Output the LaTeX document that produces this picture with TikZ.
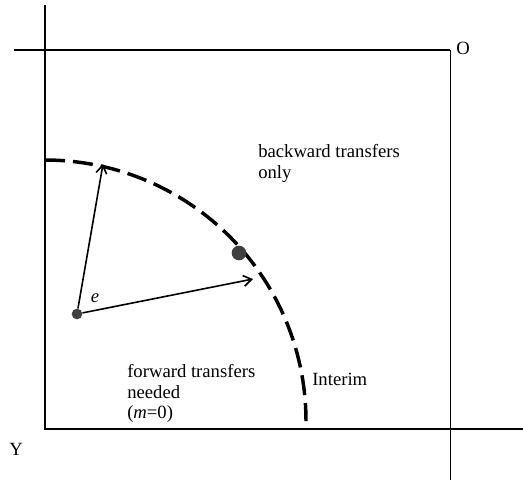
\documentclass[tikz,border=0pt]{standalone}
\usepackage{fontspec}
\setmainfont{Liberation Serif}
\usetikzlibrary{arrows.meta}
\begin{document}
\begin{tikzpicture}[x=0.75pt, y=-0.75pt,
    font=\fontsize{14}{15.5}\selectfont,
    frame/.style={line width=1.1pt},
    boundary/.style={line width=2.6pt, dash pattern=on 15pt off 6pt},
    vec/.style={line width=1.2pt, -{Straight Barb[length=6pt,width=8pt,line width=1.2pt]}},
    dot/.style={circle, fill=black!75, inner sep=0pt, minimum size=#1}]
            \useasboundingbox (0,0) rectangle (523,483);
            \coordinate (TL) at (45,50);
            \coordinate (TR) at (450,50);
            \coordinate (BL) at (45,429);
            \coordinate (BR) at (450,429);
            % frame
            \draw[frame] (14,50) -- (TR);
            \draw[frame] (45,5) -- (BL) -- (523,429);
            \draw[line width=0.6pt] (TR) -- (450,480);
            \draw[line width=1.6pt] (14,50) -- (65,50);
            \draw[line width=1.6pt] (403,50) -- (TR);
            \draw[line width=1.6pt] (45,5) -- (45,80);
            \node (O) at (463,48) {O};
            \node (Y) at (16,449) {Y};
            % interim boundary
            \draw[boundary] plot[domain=90:0, samples=80]
                ({45+261*cos(\x)}, {421-261*sin(\x)});
            \coordinate (P1) at (103,164);
            \coordinate (P2) at (253,279);
            \node[dot=8pt] (e) at (77,314) {};
            \node[dot=11pt] (m) at (239,253) {};
            \draw[vec] (e) -- (P1);
            \draw[vec] (e) -- (P2);
            \node (elab) at (95,298) {\textit{e}};
            \node[anchor=north west, inner sep=0pt, align=left] (back) at (258,144)
                {backward transfers\\only};
            \node[anchor=north west, inner sep=0pt, align=left] (fwd) at (127,364)
                {forward transfers\\needed\\(\textit{m}=0)};
            \node[anchor=west, inner sep=0pt] (interim) at (312,379) {Interim};
        \end{tikzpicture}
\end{document}
